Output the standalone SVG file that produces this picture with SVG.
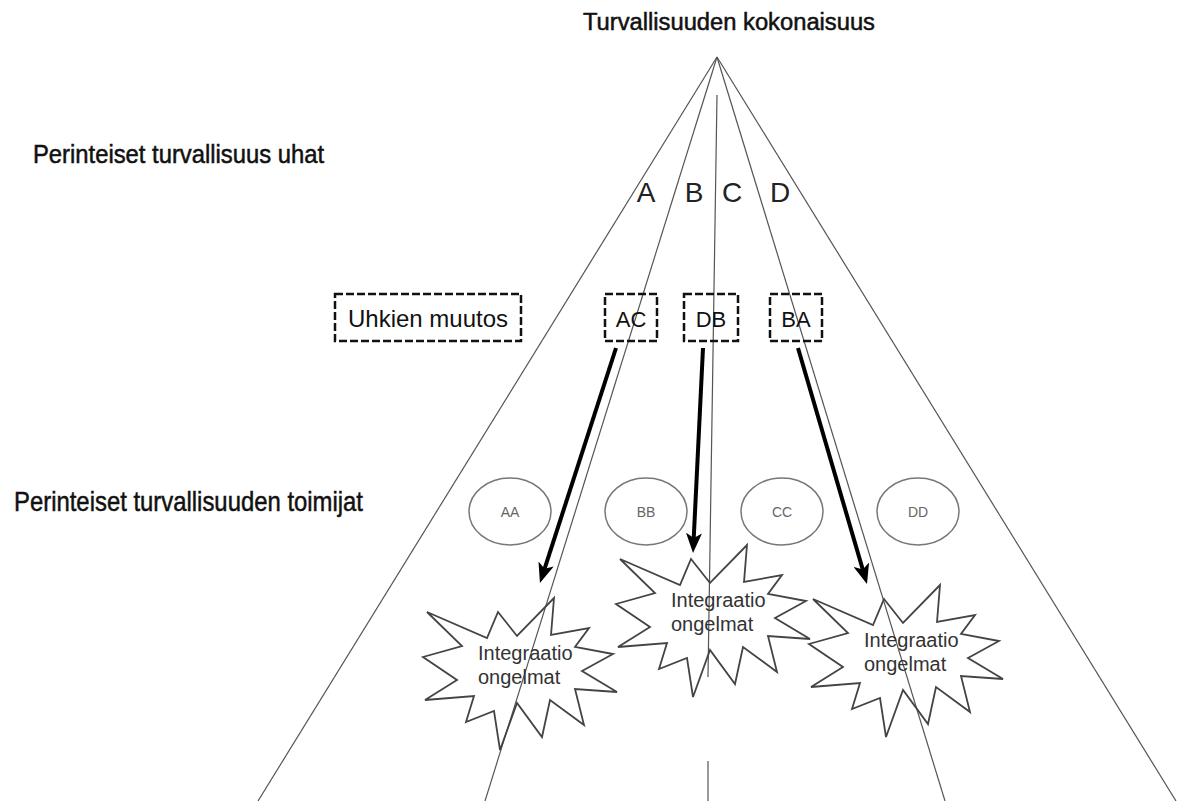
<svg xmlns="http://www.w3.org/2000/svg" xmlns:xlink="http://www.w3.org/1999/xlink" width="1180" height="801" viewBox="0 0 1180 801">
<style>
.ray{stroke:#555;stroke-width:1.2;fill:none}
.arrow{stroke:#000;stroke-width:4;fill:none;marker-end:url(#ah)}
.box{fill:none;stroke:#111;stroke-width:2.5;stroke-dasharray:8 3}
.ell{fill:none;stroke:#777;stroke-width:1.5}
.star{fill:none;stroke:#444;stroke-width:1.8;stroke-linejoin:miter}
.t{font-family:"Liberation Sans",Arial,sans-serif;fill:#111}
.heavy{stroke:#111;stroke-width:0.5}
.big{font-size:24px}
.ltr{font-size:28px;fill:#222;text-anchor:middle}
.bx{font-size:22px;text-anchor:middle}
.el{font-size:14px;fill:#666;text-anchor:middle}
.st{font-size:20px;fill:#333}
</style>
<defs>
<marker id="ah" markerUnits="userSpaceOnUse" viewBox="0 0 20 16" markerWidth="20" markerHeight="16" refX="14" refY="8" orient="auto">
<path d="M0,0 L20,8 L0,16 L5,8 z" fill="#000"/>
</marker>
<polygon id="star" class="star" points="691,559 710,583 747,545 744,582 782,575 768,594 806,601 775,618 810,639 768,636 777,672 743,647 735,684 710,650 693,697 687,658 659,669 667,643 618,647 650,627 616,604 655,593 620,559 680,585"/>
</defs>
<rect width="1180" height="801" fill="#fff"/>

<g id="connectors">
<line class="ray" x1="717" y1="57" x2="258" y2="801"/>
<line class="ray" x1="717" y1="57" x2="485" y2="801"/>
<line class="ray" x1="717" y1="57" x2="945" y2="801"/>
<line class="ray" x1="717" y1="57" x2="1176" y2="801"/>
<line class="ray" x1="717" y1="95" x2="708" y2="677"/>
<line class="ray" x1="708" y1="761" x2="708" y2="801"/>
<line class="arrow" x1="616" y1="348" x2="541.8" y2="577.3"/>
<line class="arrow" x1="703" y1="348" x2="693.3" y2="547"/>
<line class="arrow" x1="798" y1="348" x2="865.3" y2="578.2"/>
</g>

<g id="title"><text class="t heavy" x="583" y="30" font-size="23" textLength="292" lengthAdjust="spacingAndGlyphs">Turvallisuuden kokonaisuus</text></g>
<g id="label-uhat"><text class="t heavy" x="33" y="163" font-size="25" textLength="291" lengthAdjust="spacingAndGlyphs">Perinteiset turvallisuus uhat</text></g>
<g id="label-toimijat"><text class="t heavy" x="14" y="511" font-size="28" textLength="349" lengthAdjust="spacingAndGlyphs">Perinteiset turvallisuuden toimijat</text></g>

<g id="sector-letters">
<text class="t ltr" x="646" y="202">A</text>
<text class="t ltr" x="694" y="202">B</text>
<text class="t ltr" x="732" y="202">C</text>
<text class="t ltr" x="780" y="202">D</text>
</g>

<g id="box-uhkien"><rect class="box" x="335" y="294" width="186" height="47"/><text class="t big" x="428" y="327" text-anchor="middle">Uhkien muutos</text></g>
<g id="box-ac"><rect class="box" x="605" y="294" width="52" height="47"/><text class="t bx" x="631" y="327">AC</text></g>
<g id="box-db"><rect class="box" x="684" y="294" width="54" height="47"/><text class="t bx" x="711" y="327">DB</text></g>
<g id="box-ba"><rect class="box" x="770" y="294" width="52" height="47"/><text class="t bx" x="796" y="327">BA</text></g>

<g id="actor-aa"><ellipse class="ell" cx="510" cy="511.5" rx="41" ry="33.5"/><text class="t el" x="510" y="517">AA</text></g>
<g id="actor-bb"><ellipse class="ell" cx="646" cy="511.5" rx="41" ry="33.5"/><text class="t el" x="646" y="517">BB</text></g>
<g id="actor-cc"><ellipse class="ell" cx="782" cy="511.5" rx="41" ry="33.5"/><text class="t el" x="782" y="517">CC</text></g>
<g id="actor-dd"><ellipse class="ell" cx="918" cy="511.5" rx="41" ry="33.5"/><text class="t el" x="918" y="517">DD</text></g>

<g id="star-left" transform="translate(-193,53)"><use href="#star" xlink:href="#star"/><text class="t st" x="671" y="607">Integraatio</text><text class="t st" x="671" y="631">ongelmat</text></g>
<g id="star-middle"><use href="#star" xlink:href="#star"/><text class="t st" x="671" y="607">Integraatio</text><text class="t st" x="671" y="631">ongelmat</text></g>
<g id="star-right" transform="translate(193,40)"><use href="#star" xlink:href="#star"/><text class="t st" x="671" y="607">Integraatio</text><text class="t st" x="671" y="631">ongelmat</text></g>
</svg>
